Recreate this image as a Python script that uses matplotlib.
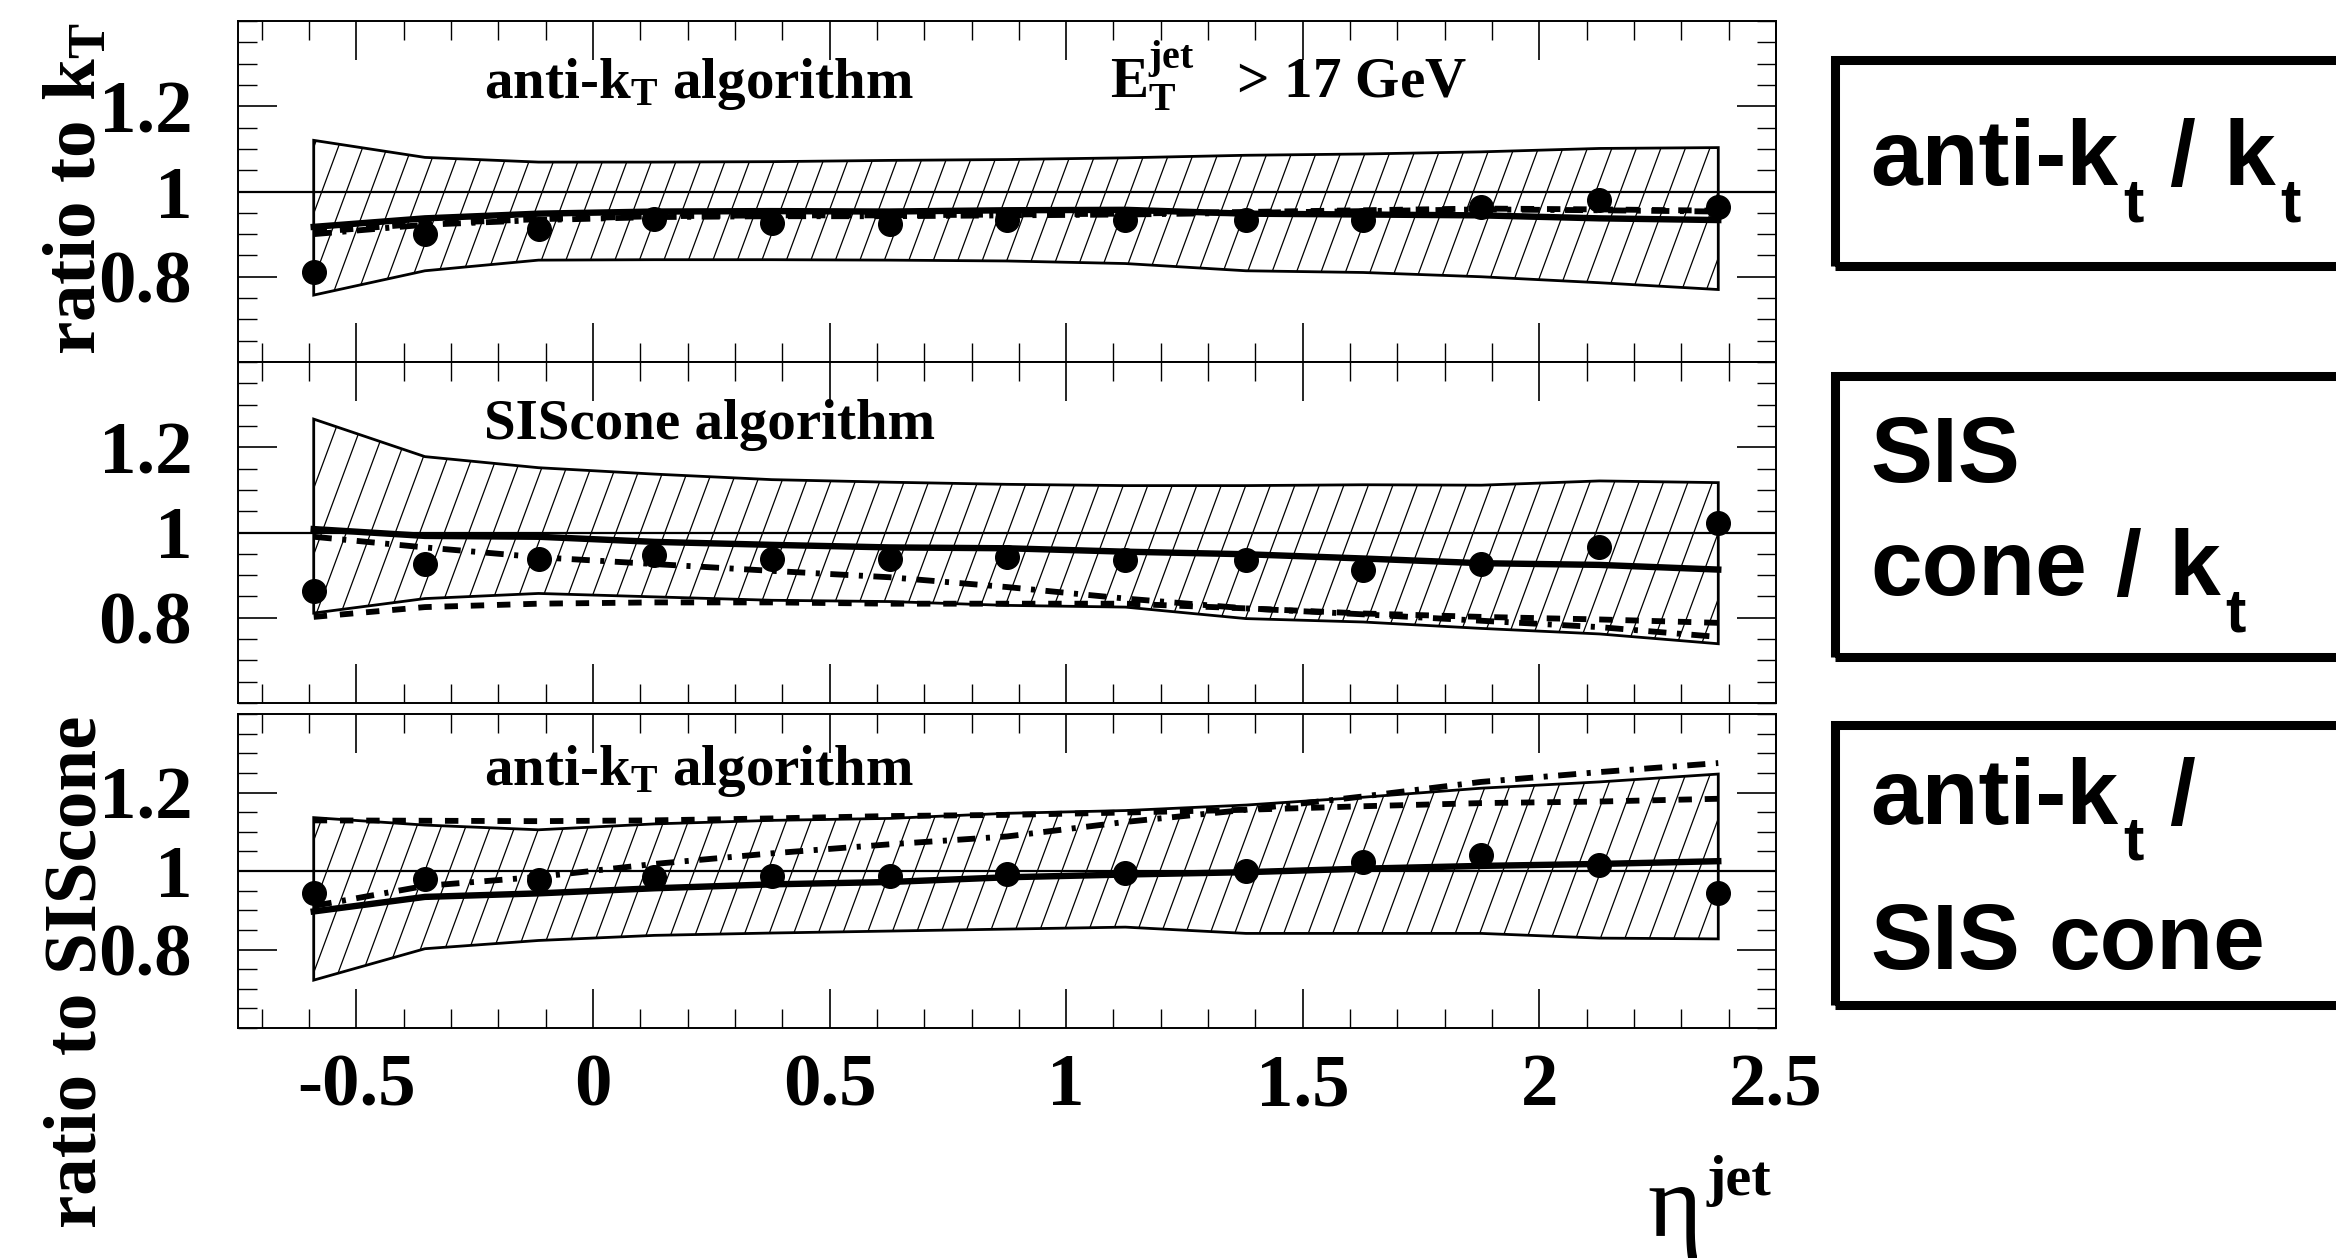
import numpy as np
import matplotlib
matplotlib.use("Agg")
import matplotlib.pyplot as plt
from matplotlib.patches import Polygon, Rectangle
from matplotlib.collections import LineCollection
from matplotlib.transforms import Affine2D
from matplotlib.ticker import MultipleLocator, FixedLocator, FixedFormatter

plt.rcParams['mathtext.default'] = 'regular'
plt.rcParams['axes.unicode_minus'] = False

# bin centres in eta^jet
eta = [-0.59, -0.355, -0.115, 0.13, 0.378, 0.627, 0.875, 1.125, 1.38, 1.628, 1.877, 2.127, 2.378]

# anti-kT / kT
pts1 = [0.812, 0.901, 0.911, 0.935, 0.925, 0.923, 0.933, 0.933, 0.934, 0.934, 0.964, 0.980, 0.964]
hi1 = [1.120, 1.080, 1.069, 1.069, 1.070, 1.073, 1.075, 1.079, 1.085, 1.088, 1.093, 1.101, 1.103]
lo1 = [0.757, 0.814, 0.839, 0.840, 0.840, 0.839, 0.837, 0.831, 0.814, 0.810, 0.800, 0.786, 0.770]
solid1 = [0.917, 0.937, 0.948, 0.953, 0.954, 0.953, 0.956, 0.957, 0.948, 0.946, 0.944, 0.937, 0.933]
dashed1 = [0.905, 0.925, 0.935, 0.942, 0.944, 0.944, 0.946, 0.948, 0.952, 0.956, 0.960, 0.958, 0.955]
dashdot1 = [0.900, 0.922, 0.933, 0.940, 0.942, 0.942, 0.944, 0.946, 0.950, 0.954, 0.958, 0.956, 0.953]

# SIScone / kT
pts2 = [0.863, 0.926, 0.937, 0.947, 0.939, 0.938, 0.943, 0.935, 0.935, 0.912, 0.926, 0.967, 1.022]
hi2 = [1.266, 1.178, 1.152, 1.137, 1.124, 1.118, 1.113, 1.110, 1.110, 1.112, 1.111, 1.121, 1.117]
lo2 = [0.811, 0.845, 0.857, 0.849, 0.841, 0.838, 0.829, 0.825, 0.798, 0.790, 0.775, 0.762, 0.739]
solid2 = [1.008, 0.992, 0.990, 0.978, 0.971, 0.965, 0.963, 0.955, 0.949, 0.939, 0.928, 0.924, 0.913]
dashed2 = [0.802, 0.825, 0.833, 0.836, 0.836, 0.833, 0.833, 0.833, 0.822, 0.810, 0.802, 0.796, 0.788]
dashdot2 = [0.990, 0.965, 0.942, 0.926, 0.910, 0.895, 0.872, 0.845, 0.822, 0.808, 0.793, 0.778, 0.755]

# anti-kT / SIScone
pts3 = [0.943, 0.979, 0.976, 0.984, 0.987, 0.987, 0.993, 0.996, 1.000, 1.022, 1.041, 1.016, 0.943]
hi3 = [1.136, 1.117, 1.105, 1.120, 1.129, 1.134, 1.147, 1.154, 1.168, 1.188, 1.211, 1.227, 1.247]
lo3 = [0.722, 0.802, 0.823, 0.836, 0.842, 0.847, 0.852, 0.857, 0.841, 0.841, 0.841, 0.829, 0.827]
solid3 = [0.897, 0.934, 0.943, 0.956, 0.966, 0.972, 0.984, 0.991, 0.997, 1.006, 1.013, 1.018, 1.025]
dashed3 = [1.129, 1.128, 1.127, 1.129, 1.134, 1.140, 1.143, 1.149, 1.156, 1.165, 1.173, 1.177, 1.184]
dashdot3 = [0.911, 0.962, 0.985, 1.018, 1.045, 1.068, 1.088, 1.125, 1.156, 1.190, 1.227, 1.252, 1.275]

xtick_vals = [-0.5, 0, 0.5, 1, 1.5, 2, 2.5]
xtick_text = ['-0.5', '0', '0.5', '1', '1.5', '2', '2.5']
ytick_vals = [0.8, 1.0, 1.2]
ytick_text = ['0.8', '1', '1.2']

panel_titles = [r'anti-k$_{T}$ algorithm', 'SIScone algorithm', r'anti-k$_{T}$ algorithm']
# legend boxes: each line is a list of (text, is_subscript)
box_lines = [
    [[('anti-k', False), ('t', True), ('/', False), ('k', False), ('t', True)]],
    [[('SIS', False)], [('cone', False), ('/', False), ('k', False), ('t', True)]],
    [[('anti-k', False), ('t', True), ('/', False)], [('SIS', False), ('cone', False)]],
]

panels = [(pts1, hi1, lo1, solid1, dashed1, dashdot1),
          (pts2, hi2, lo2, solid2, dashed2, dashdot2),
          (pts3, hi3, lo3, solid3, dashed3, dashdot3)]

W, H = 2336, 1260
fig = plt.figure(figsize=(W / 100, H / 100), dpi=100)
renderer = fig.canvas.get_renderer()

serif = 'Liberation Serif'
sans = 'Liberation Sans'

# pixel boxes (left, top, right, bottom)
boxes_px = [(238, 21, 1776, 362), (238, 362, 1776, 703), (238, 714, 1776, 1028)]

for i, (l, t, r, b) in enumerate(boxes_px):
    ax = fig.add_axes([l / W, 1 - b / H, (r - l) / W, (b - t) / H])
    pts, hi, lo, solid, dashed, dashdot = panels[i]
    ax.set_xlim(-0.75, 2.5)
    ax.set_ylim(0.6, 1.4)

    # band outline
    verts = np.column_stack([np.concatenate([eta, eta[::-1]]),
                             np.concatenate([hi, lo[::-1]])])
    band = Polygon(verts, closed=True, facecolor='none', edgecolor='black',
                   linewidth=2.0, zorder=2)
    ax.add_patch(band)

    # steep hatch clipped to the band
    wpx, hpx = r - l, b - t
    slope = 2.7
    step = 24.5
    offs = np.arange(-hpx / slope, wpx + step, step)
    segs = [[(c, 0), (c + hpx / slope, hpx)] for c in offs]
    lc = LineCollection(segs, colors='black', linewidths=0.9,
                        transform=Affine2D().scale(1 / wpx, 1 / hpx) + ax.transAxes,
                        zorder=1)
    ax.add_collection(lc)
    lc.set_clip_path(band)

    ax.axhline(1.0, color='black', lw=1.6, zorder=3)
    ax.plot(eta, solid, color='black', lw=4.6, zorder=4)
    ax.plot(eta, dashed, color='black', lw=4.2, linestyle=(0, (2.3, 2.2)), zorder=4)
    ax.plot(eta, dashdot, color='black', lw=4.2, linestyle=(0, (3.1, 1.8, 0.7, 1.8)), zorder=4)
    ax.plot(eta, pts, 'o', color='black', ms=17, zorder=5)

    ax.xaxis.set_major_locator(MultipleLocator(0.5))
    ax.xaxis.set_minor_locator(MultipleLocator(0.1))
    ax.yaxis.set_major_locator(FixedLocator(ytick_vals))
    ax.yaxis.set_major_formatter(FixedFormatter(ytick_text))
    ax.yaxis.set_minor_locator(MultipleLocator(0.05))
    if i == 2:
        ax.xaxis.set_major_locator(FixedLocator(xtick_vals))
        ax.xaxis.set_major_formatter(FixedFormatter(xtick_text))
    ax.tick_params(which='both', direction='in', top=True, right=True,
                   labelbottom=(i == 2))
    ax.tick_params(which='major', length=28, width=1.2)
    ax.tick_params(which='minor', length=14, width=1.0)
    ax.tick_params(axis='y', which='major', pad=33)
    ax.tick_params(axis='x', which='major', pad=18)
    for lab in ax.get_xticklabels() + ax.get_yticklabels():
        lab.set_fontfamily(serif)
        lab.set_fontweight('bold')
        lab.set_fontsize(54)
    for sp in ax.spines.values():
        sp.set_linewidth(1.4)

    ax.text(-0.23, 1.22, panel_titles[i], fontsize=41, fontweight='bold',
            family=serif, va='baseline', ha='left')
    if i == 0:
        ax.text(1.093, 1.22, r'E$^{jet}_{T}$   > 17 GeV', fontsize=41,
                fontweight='bold', family=serif, va='baseline', ha='left')

# y axis titles
fig.text(78 / W, 1 - 22 / H, r'ratio to k$_{T}$', rotation=90, ha='center', va='top',
         fontsize=54, fontweight='bold', family=serif)
fig.text(78 / W, 1 - 715 / H, 'ratio to SIScone', rotation=90, ha='center', va='top',
         fontsize=54, fontweight='bold', family=serif)

# x axis title
fig.text(1647 / W, 1 - 1236 / H, 'η', fontsize=75, family=serif, va='baseline', ha='left')
fig.text(1707 / W, 1 - 1195 / H, 'jet', fontsize=42, fontweight='bold', family=serif,
         va='baseline', ha='left')

# boxes on the right
box_px = [(60, 266), (376, 657), (725, 1005)]
baselines = [[185], [482, 595], [824, 969]]
for (bt, bb), lines, bls in zip(box_px, box_lines, baselines):
    fig.add_artist(Rectangle((1835 / W, 1 - bb / H), (2400 - 1835) / W, (bb - bt) / H,
                             transform=fig.transFigure, facecolor='none',
                             edgecolor='black', linewidth=6.5))
    for pieces, bl in zip(lines, bls):
        xpx = 1870
        prev_sub = False
        for k, (txt, sub) in enumerate(pieces):
            if k > 0 and not sub:
                xpx += 26 if prev_sub else 28
            if sub:
                xpx += 5
            ypx = bl + 36 if sub else bl
            tt = fig.text(xpx / W, 1 - ypx / H, txt, fontsize=44 if sub else 67,
                          fontweight='bold', family=sans, va='baseline', ha='left')
            xpx = tt.get_window_extent(renderer).x1
            prev_sub = sub

fig.savefig('out.png', dpi=100)
